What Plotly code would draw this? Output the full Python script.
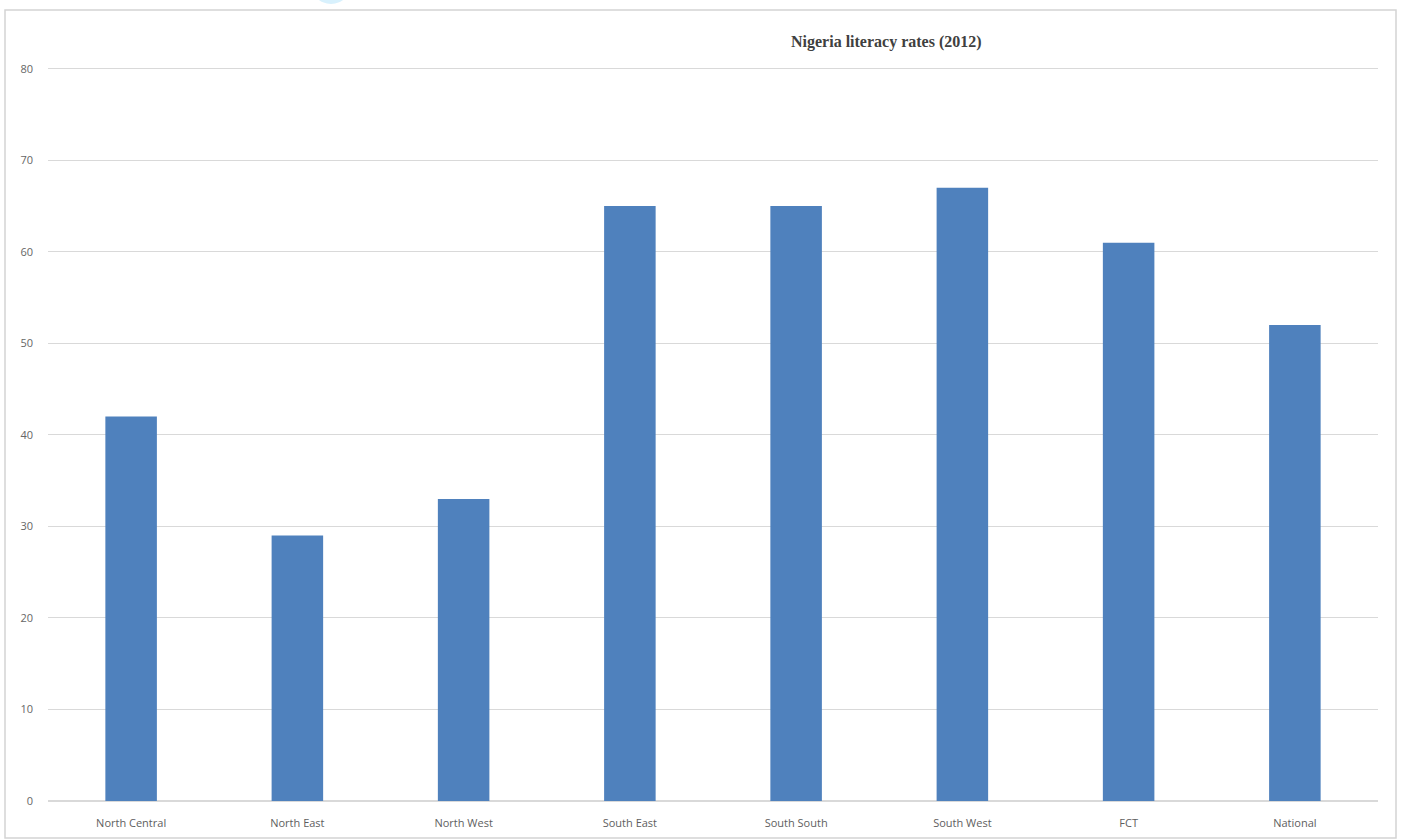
import plotly.graph_objects as go

categories = ["North Central", "North East", "North West", "South East",
              "South South", "South West", "FCT", "National"]
values = [42, 29, 33, 65, 65, 67, 61, 52]
y_ticks = [0, 10, 20, 30, 40, 50, 60, 70, 80]
title_text = "Nigeria literacy rates (2012)"

W, H = 1402, 839
L, R, T, B = 48, 24, 67, 38

fig = go.Figure(go.Bar(
    x=categories, y=values,
    marker=dict(color="#4f81bd", line=dict(width=0)),
    hoverinfo="x+y",
))

fig.update_layout(
    width=W, height=H,
    margin=dict(l=L, r=R, t=T, b=B, autoexpand=False),
    paper_bgcolor="white", plot_bgcolor="white",
    bargap=0.69,
    showlegend=False,
    font=dict(family="Open Sans, Lato, sans-serif", color="#666666", size=11),
)
fig.update_xaxes(
    showgrid=False, showline=False, zeroline=False, automargin=False,
    ticks="", tickfont=dict(size=11, color="#5e5e5e"),
    ticklabelstandoff=14,
)
fig.update_yaxes(
    range=[0, 80.2], tickvals=y_ticks, showgrid=True, automargin=False,
    gridcolor="#d9d9d9", gridwidth=1, zeroline=True, zerolinecolor="#d9d9d9",
    showline=False, ticks="", tickfont=dict(size=11, color="#666666"),
    ticklabelstandoff=14,
)

PW = W - L - R
PH = H - T - B
# chart border frame
fig.add_shape(type="rect", xref="paper", yref="paper",
              x0=(5 - L) / PW, x1=(1396 - L) / PW,
              y0=(H - B - 838) / PH, y1=(H - B - 10) / PH,
              line=dict(color="#d4d4d4", width=1.5), layer="below")
# decorative cyan arc at top
fig.add_shape(type="circle", xref="paper", yref="paper",
              x0=(310 - L) / PW, x1=(352 - L) / PW,
              y0=(H - B - 4) / PH, y1=(H - B + 40) / PH,
              fillcolor="#d8f1fd", line=dict(width=0), layer="below")

fig.add_annotation(
    text="<b>" + title_text + "</b>", xref="paper", yref="paper",
    x=(886 - L) / PW, y=(H - B - 42) / PH,
    xanchor="center", yanchor="middle", showarrow=False,
    font=dict(family="Liberation Serif, Times New Roman, serif", size=16, color="#404040"),
)

fig.write_html("out.html")
